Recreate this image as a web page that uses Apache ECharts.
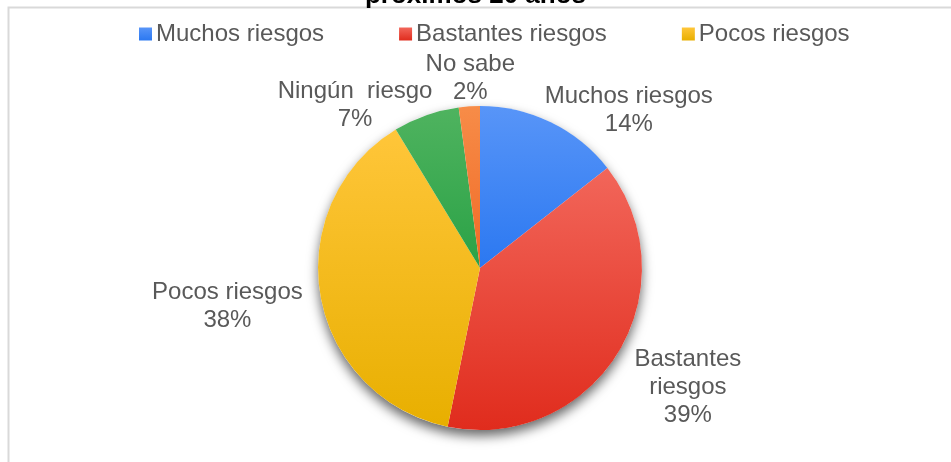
<!DOCTYPE html>
<html>
<head>
<meta charset="utf-8">
<script src="https://cdn.jsdelivr.net/npm/echarts@6/dist/echarts.min.js"></script>
<style>
  html, body { margin: 0; padding: 0; background: #ffffff; }
  #main { width: 951px; height: 462px; }
</style>
</head>
<body>
<div id="main"></div>
<script>
// ---- Data ----
const categories = ['Muchos riesgos', 'Bastantes riesgos', 'Pocos riesgos', 'Ningún riesgo', 'No sabe'];
const values = [14.4, 38.8, 38.1, 6.6, 2.1];
const percentLabels = ['14%', '39%', '38%', '7%', '2%'];
const labelNames = ['Muchos riesgos', 'Bastantes\nriesgos', 'Pocos riesgos', 'Ningún  riesgo', 'No sabe'];
const legendItems = ['Muchos riesgos', 'Bastantes riesgos', 'Pocos riesgos'];
const titleText = 'próximos 20 años';

// ---- Styles ----
const FONT = '"Liberation Sans", Arial, sans-serif';
const TEXT = '#595959';
const sliceColors = [
  ['#5895f8', '#2b78f1'],
  ['#f2665a', '#e02c1d'],
  ['#ffc63a', '#e8af00'],
  ['#4fb35f', '#2aa246'],
  ['#f78c48', '#f06a26']
];
const CX = 480, CY = 268, R = 162;
// label centre offsets relative to the slice mid-angle point on the rim
const labelOffsets = [[78, -12], [70, 34], [-93, 11], [-71, -10], [1, -28]];

const total = values.reduce((a, b) => a + b, 0);
const cumStart = [];
values.reduce((acc, v, i) => { cumStart[i] = acc; return acc + v; }, 0);

function grad(c) {
  return new echarts.graphic.LinearGradient(0, 0, 0, 1, [
    { offset: 0, color: c[0] },
    { offset: 1, color: c[1] }
  ]);
}

const pieData = categories.map((name, i) => ({
  name: name,
  value: values[i],
  itemStyle: { color: grad(sliceColors[i]) }
}));

const chart = echarts.init(document.getElementById('main'), null, { renderer: 'canvas' });

chart.setOption({
  animation: false,
  backgroundColor: '#ffffff',
  textStyle: { fontFamily: FONT },
  title: {
    text: titleText,
    left: 'center',
    top: -17,
    padding: 0,
    textStyle: { fontSize: 26, fontWeight: 'bold', color: '#000000', fontFamily: FONT }
  },
  legend: {
    data: legendItems,
    left: 134,
    top: 17,
    icon: 'rect',
    itemWidth: 13,
    itemHeight: 13,
    itemGap: 75,
    textStyle: { fontSize: 24, color: TEXT, fontFamily: FONT, padding: [0, 0, 0, -1] }
  },
  graphic: [{
    type: 'rect',
    silent: true,
    z: -10,
    shape: { x: 8.5, y: 7.5, width: 1200, height: 1200 },
    style: { fill: 'none', stroke: '#d9d9d9', lineWidth: 2 }
  }],
  series: [
    {
      type: 'pie',
      silent: true,
      center: [CX, CY],
      radius: R,
      z: 1,
      label: { show: false },
      labelLine: { show: false },
      data: [{ value: 1, name: '', itemStyle: { color: '#ffffff', shadowBlur: 12, shadowOffsetY: 6, shadowColor: 'rgba(0,0,0,0.6)' } }]
    },
    {
      type: 'pie',
      center: [CX, CY],
      radius: R,
      z: 2,
      startAngle: 90,
      clockwise: true,
      avoidLabelOverlap: false,
      emphasis: { scale: false },
      itemStyle: { borderWidth: 0 },
      label: {
        show: true,
        position: 'outside',
        color: TEXT,
        fontSize: 24,
        fontFamily: FONT,
        lineHeight: 28,
        formatter: function (p) {
          const lines = labelNames[p.dataIndex].split('\n').concat([percentLabels[p.dataIndex]]);
          return lines.map(l => '{c|' + l + '}').join('\n');
        },
        rich: {
          c: { align: 'center', fontSize: 24, lineHeight: 28, color: TEXT, fontFamily: FONT }
        }
      },
      labelLine: { show: false },
      labelLayout: function (params) {
        const i = params.dataIndex;
        const theta = (cumStart[i] + values[i] / 2) / total * 2 * Math.PI;
        const px = CX + R * Math.sin(theta);
        const py = CY - R * Math.cos(theta);
        return {
          x: px + labelOffsets[i][0],
          y: py + labelOffsets[i][1],
          align: 'center',
          verticalAlign: 'middle'
        };
      },
      data: pieData
    }
  ]
});
</script>
</body>
</html>
